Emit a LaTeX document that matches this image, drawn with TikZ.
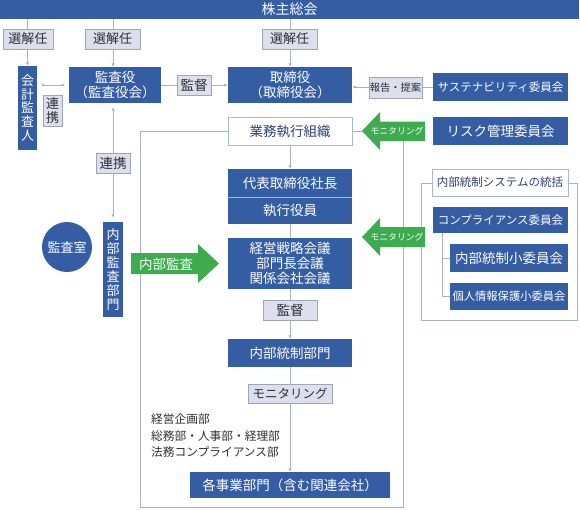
\documentclass[tikz,border=0pt]{standalone}
\usepackage{fontspec}
\setmainfont{Noto Sans CJK JP}
\usetikzlibrary{arrows.meta,backgrounds}
\definecolor{bblue}{RGB}{52,93,163}
\definecolor{grn}{RGB}{60,172,78}
\definecolor{labfill}{RGB}{221,224,236}
\definecolor{labdraw}{RGB}{160,166,186}
\definecolor{labtext}{RGB}{45,45,55}
\definecolor{lncol}{RGB}{165,178,200}
\definecolor{wdraw}{RGB}{170,185,210}
\definecolor{wtext}{RGB}{45,65,115}
\newcommand{\fs}[2]{\fontsize{#1}{#2}\selectfont}
\begin{document}
\begin{tikzpicture}[x=1pt,y=-1pt,
  sz/.style 2 args={minimum width=#1, minimum height=#2},
  bbox/.style={fill=bblue, text=white, inner sep=0pt, align=center, font=\fs{13.5}{15}},
  wbox/.style={fill=white, draw=wdraw, line width=0.7pt, text=wtext, inner sep=0pt, align=center, font=\fs{13.5}{15}},
  lab/.style={fill=labfill, draw=labdraw, line width=0.6pt, text=labtext, inner sep=0pt, align=center, font=\fs{13}{14}},
  ln/.style={draw=lncol, line width=0.8pt},
  arr/.style={ln, -{Latex[length=3.5pt,width=3.5pt]}},
  darr/.style={ln, {Latex[length=3.5pt,width=3.5pt]}-{Latex[length=3.5pt,width=3.5pt]}},
  gtext/.style={text=white, inner sep=0pt},
]
\useasboundingbox (0,0) rectangle (580,509);

% top bar
\node[bbox, sz={579pt}{19pt}, font=\fs{14}{15}] (top) at (289.5,9.5) {株主総会};

% labels
\node[lab, sz={50pt}{20pt}] (sel1) at (28,39) {選解任};
\node[lab, sz={55pt}{20pt}] (sel2) at (112.5,39) {選解任};
\node[lab, sz={55pt}{20pt}] (sel3) at (289.5,39) {選解任};

% audit side
\node[bbox, sz={19pt}{84pt}, font=\fs{13}{13.6}] (kaikei) at (27.5,108) {会\\計\\監\\査\\人};
\node[bbox, sz={92pt}{36pt}] (kansa) at (115,85) {監査役\\（監査役会）};
\node[lab, sz={19pt}{31pt}, font=\fs{13}{14}] (renkei1) at (52.5,110.5) {連\\携};
\node[lab, sz={34pt}{20pt}, font=\fs{13.5}{14}] (kantoku1) at (194,85) {監督};
\node[lab, sz={34pt}{20pt}, font=\fs{13.5}{14}] (renkei2) at (113,163) {連携};
\node[bbox, sz={20pt}{95pt}, font=\fs{13}{14}] (naibukansa) at (113,269.5) {内\\部\\監\\査\\部\\門};
\node[circle, fill=bblue, text=white, inner sep=0pt, minimum size=50pt, font=\fs{13}{14}] (shitsu) at (67,247) {監査室};

% board and executive
\node[bbox, sz={124pt}{36pt}] (tori) at (290,85) {取締役\\（取締役会）};
\node[wbox, sz={124pt}{28pt}] (gyomu) at (290,131) {業務執行組織};
\node[bbox, sz={124pt}{28pt}] (daihyo) at (290,183) {代表取締役社長};
\node[bbox, sz={124pt}{27pt}] (shikko) at (290,210.5) {執行役員};
\draw[draw=white!55!bblue, line width=0.7pt] (daihyo.south west) -- (daihyo.south east);
\node[bbox, sz={124pt}{51pt}, font=\fs{13.5}{15}] (keiei) at (290,263.5) {経営戦略会議\\部門長会議\\関係会社会議};
\node[lab, sz={54pt}{20pt}, font=\fs{13.5}{14}] (kantoku2) at (290,310) {監督};
\node[bbox, sz={124pt}{28pt}] (naibutosei) at (290,353) {内部統制部門};
\node[lab, sz={84pt}{19pt}, font=\fs{12.5}{14}] (moni) at (290,394) {モニタリング};
\node[bbox, sz={200pt}{26pt}] (kakuji) at (290,485) {各事業部門（含む関連会社）};
\node[anchor=west, align=left, inner sep=0pt, text=labtext, font=\fs{11.7}{16.5}] (blk) at (151,436) {経営企画部\\総務部・人事部・経理部\\法務コンプライアンス部};

% committees
\node[lab, sz={53pt}{21pt}, font=\fs{10.3}{12}] (hokoku) at (395.5,87.5) {報告・提案};
\node[bbox, sz={135pt}{28pt}, font=\fs{11.5}{13}] (sust) at (500.5,87) {サステナビリティ委員会};
\node[bbox, sz={135pt}{28pt}] (risk) at (500.5,131) {リスク管理委員会};

% internal control frame
\coordinate (tfTL) at (421,183);
\coordinate (tfBR) at (577,320);
\draw[ln] (tfTL) rectangle (tfBR);
\node[wbox, sz={136pt}{27pt}, font=\fs{11.5}{13}] (toseititle) at (500,182.5) {内部統制システムの統括};
\node[bbox, sz={135pt}{26pt}, font=\fs{11.5}{13}] (comp) at (500.5,220) {コンプライアンス委員会};
\node[bbox, sz={118pt}{28pt}] (shoi) at (509,258) {内部統制小委員会};
\node[bbox, sz={118pt}{27pt}, font=\fs{11.3}{13}] (kojin) at (509,296.5) {個人情報保護小委員会};

% green arrows
\fill[grn] (362,131) -- (380,112) -- (380,121.5) -- (425,121.5) -- (425,141) -- (380,141) -- (380,150) -- cycle;
\node[gtext, font=\fs{8.8}{10}] (mon1) at (397,131.5) {モニタリング};
\fill[grn] (362,237) -- (380,218) -- (380,227) -- (425,227) -- (425,247) -- (380,247) -- (380,256) -- cycle;
\node[gtext, font=\fs{8.8}{10}] (mon2) at (397,237.5) {モニタリング};
\fill[grn] (131,253) -- (198,253) -- (198,244) -- (219,263.5) -- (198,283) -- (198,274) -- (131,274) -- cycle;
\node[gtext, font=\fs{13.5}{14}] (kansaArr) at (166,264) {内部監査};

\coordinate (m1tip) at (362,131);
\coordinate (m1bot) at (403,141);
\coordinate (frBL) at (140,507);

\begin{scope}[on background layer]
\draw[arr] (top.south -| kaikei.north) -- (kaikei.north);
\draw[arr] (top.south -| naibukansa.north) -- (kansa.north -| naibukansa.north);
\draw[arr] (top.south -| tori.north) -- (tori.north);
\draw[darr, shorten <=3.5pt, shorten >=3.5pt] (kaikei.east |- kansa.west) -- (kansa.west);
\draw[arr] (kansa.east) -- (tori.west);
\draw[arr] (sust.west) -- (tori.east |- sust.west);
\draw[darr, shorten <=4pt, shorten >=4pt] (kansa.south -| naibukansa.north) -- (naibukansa.north);
\draw[arr] (gyomu.south) -- (daihyo.north);
\draw[ln] (shikko.south) -- (keiei.north);
\draw[arr] (keiei.south) -- (naibutosei.north);
\draw[arr] (naibutosei.south) -- (kakuji.north);
\draw[ln] (gyomu.east) -- (m1tip);
\draw[ln] (gyomu.west) -| (frBL) -| (m1bot);
\draw[ln] ([xshift=-58.5pt]comp.south) |- (kojin.west);
\draw[ln] ([xshift=-58.5pt]comp.south) |- (shoi.west);
\end{scope}
\end{tikzpicture}
\end{document}
